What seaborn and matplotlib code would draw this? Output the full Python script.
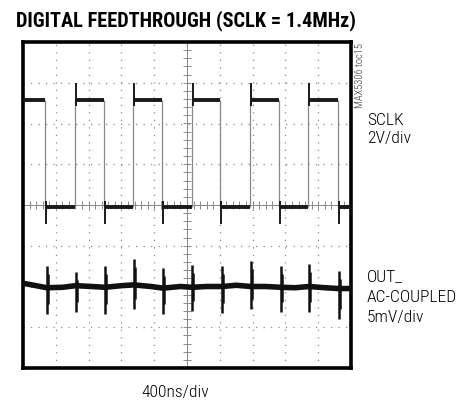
import numpy as np
import pandas as pd
import matplotlib
matplotlib.use("Agg")
import matplotlib.pyplot as plt
import seaborn as sns

# scope screen in divisions: x 0..10 (400ns/div), y -4..4
sclk_high = 2.58
sclk_low = -0.04
fall_x = [0.67, 2.46, 4.24, 6.00, 7.80, 9.59]
rise_x = [1.58, 3.36, 5.15, 6.92, 8.69]

out_base_x = [0, 0.4, 0.72, 1.2, 1.61, 2.1, 2.5, 3.0, 3.38, 3.9, 4.27, 4.8,
              5.15, 5.6, 6.07, 6.5, 6.95, 7.4, 7.87, 8.3, 8.72, 9.2, 9.63, 10]
out_base_y = [-1.92, -1.98, -2.03, -2.02, -1.98, -2.0, -2.02, -1.98, -1.96, -2.0, -2.04, -2.0,
              -2.02, -2.0, -2.0, -1.97, -2.0, -2.0, -2.02, -2.03, -2.0, -2.03, -2.05, -2.05]
spike_x = [0.72, 1.61, 2.50, 3.38, 4.27, 5.15, 6.07, 6.95, 7.87, 8.72, 9.63]
spike_top = [-1.50, -1.64, -1.50, -1.33, -1.55, -1.47, -1.50, -1.37, -1.50, -1.45, -1.62]
spike_bot = [-2.67, -2.63, -2.67, -2.55, -2.67, -2.60, -2.65, -2.55, -2.62, -2.62, -2.80]

sns.set_style("white")
plt.rcParams['font.family'] = ['Roboto Condensed', 'Liberation Sans Narrow', 'Roboto', 'DejaVu Sans']
plt.rcParams['text.color'] = 'black'

fig = plt.figure(figsize=(4.74, 4.02), dpi=100)
ax = fig.add_axes([23/474, 1-369/402, 328/474, 326/402])
ax.set_xlim(0, 10)
ax.set_ylim(-4, 4)

# graticule
for gx in range(1, 10):
    ax.axvline(gx, color='#8a8a8a', lw=0.9, ls=(0, (1, 5)), zorder=1)
for gy in range(-3, 4):
    ax.axhline(gy, color='#8a8a8a', lw=0.9, ls=(0, (1, 5)), zorder=1)
ax.axvline(5, color='#8a8a8a', lw=0.7, zorder=1)
ax.axhline(0, color='#8a8a8a', lw=0.7, zorder=1)
tx = np.arange(0.2, 10, 0.2)
ty = np.arange(-3.8, 4, 0.2)
ax.plot(tx, np.zeros_like(tx), ls='none', marker='|', ms=6, color='#8a8a8a', mew=0.7, zorder=1)
ax.plot(np.full_like(ty, 5), ty, ls='none', marker='_', ms=6, color='#8a8a8a', mew=0.7, zorder=1)

# SCLK square wave
edges = sorted([(x, 'f') for x in fall_x] + [(x, 'r') for x in rise_x])
starts = [0] + [e[0] for e in edges]
ends = [e[0] for e in edges] + [10]
levels = [sclk_high] + [sclk_low if k == 'f' else sclk_high for _, k in edges]
ax.hlines(levels, starts, ends, color='#1a1a1a', lw=2.8, zorder=3)
ax.vlines([e[0] for e in edges], sclk_low, sclk_high, color='#888888', lw=0.9, zorder=2)
ax.vlines([x + 0.03 for x in rise_x], sclk_high - 0.15, sclk_high + 0.42, color='#1a1a1a', lw=1.4, zorder=3)
ax.vlines([x + 0.03 for x in fall_x], sclk_low - 0.42, sclk_low + 0.15, color='#1a1a1a', lw=1.4, zorder=3)

# OUT_ feedthrough
df_out = pd.DataFrame({'t': out_base_x, 'v': out_base_y})
sns.lineplot(data=df_out, x='t', y='v', ax=ax, color='#111111', lw=4.0, zorder=3)
ax.vlines(spike_x, spike_bot, spike_top, color='#111111', lw=1.8, zorder=4)
ax.vlines([x + 0.04 for x in spike_x], [b + 0.25 for b in spike_bot], [t - 0.2 for t in spike_top],
          color='#111111', lw=1.8, zorder=4)

ax.set_xticks([])
ax.set_yticks([])
ax.set_xlabel('')
ax.set_ylabel('')
for s in ax.spines.values():
    s.set_linewidth(2.6)
    s.set_color('black')

fig.text(16/474, 1-26/402, 'DIGITAL FEEDTHROUGH (SCLK = 1.4MHz)', fontsize=14.7,
         fontweight='heavy', va='baseline', ha='left')
fig.text(360/474, 1-43/402, 'MAX5306 toc15', rotation=90, fontsize=7.6, color='#333333',
         va='top', ha='center', fontweight='light')
lab = dict(fontsize=12.6, va='baseline', fontweight='light')
fig.text(367/474, 1-125/402, 'SCLK', **lab)
fig.text(367/474, 1-143/402, '2V/div', **lab)
fig.text(367/474, 1-281/402, 'OUT_', **lab)
fig.text(367/474, 1-302/402, 'AC-COUPLED', **lab)
fig.text(367/474, 1-322/402, '5mV/div', **lab)
fig.text(175/474, 1-397/402, '400ns/div', ha='center', **lab)

fig.savefig('out.png', dpi=100)
